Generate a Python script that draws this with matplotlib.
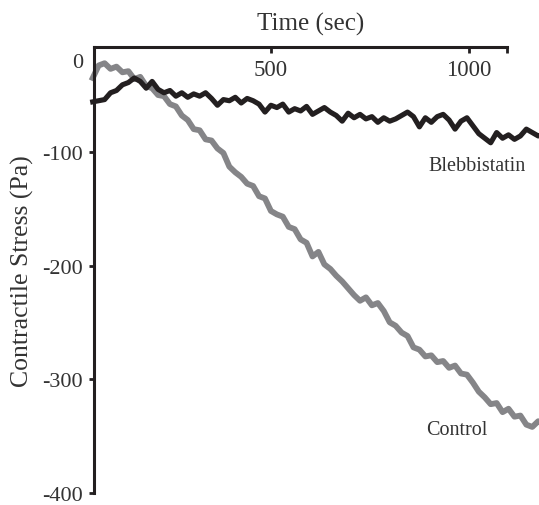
import matplotlib
matplotlib.use("Agg")
import matplotlib.pyplot as plt

plt.rcParams['font.family'] = ['Liberation Serif', 'DejaVu Serif']

# ---- data ----
time_s = [50, 65, 80, 95, 110, 125, 140, 155, 170, 185, 200, 215, 230, 245, 260,
          275, 290, 305, 320, 335, 350, 365, 380, 395, 410, 425, 440, 455, 470,
          485, 500, 515, 530, 545, 560, 575, 590, 605, 620, 635, 650, 665, 680,
          695, 710, 725, 740, 755, 770, 785, 800, 815, 830, 845, 860, 875, 890,
          905, 920, 935, 950, 965, 980, 995, 1010, 1025, 1040, 1055, 1070, 1085,
          1100, 1115, 1130, 1145, 1160, 1175, 1190]

control = [-35, -24, -22, -27, -25, -30, -29, -36, -34, -42, -44, -50, -51, -58,
           -60, -68, -72, -80, -81, -89, -90, -97, -101, -113, -118, -122, -128,
           -130, -139, -141, -152, -155, -157, -166, -168, -177, -180, -192, -188,
           -199, -203, -209, -214, -220, -226, -231, -228, -235, -233, -240, -250,
           -253, -259, -262, -272, -274, -280, -279, -285, -284, -290, -288, -295,
           -296, -303, -311, -316, -322, -321, -329, -326, -333, -332, -340, -342,
           -337, -340]

blebbistatin = [-56, -55, -54, -48, -46, -41, -39, -35, -38, -44, -38, -45, -48,
                -46, -51, -48, -52, -49, -51, -48, -53, -59, -54, -55, -52, -57,
                -53, -55, -58, -65, -59, -61, -58, -65, -62, -64, -60, -67, -64,
                -61, -65, -68, -73, -66, -70, -67, -71, -69, -74, -70, -73, -71,
                -68, -65, -69, -78, -70, -74, -69, -67, -72, -80, -73, -70, -77,
                -84, -88, -92, -83, -88, -85, -89, -86, -80, -83, -86, -84]

x_ticks = [500, 1000, 1096]
x_ticklabels = ['500', '1000', '']
y_ticks = [-100, -200, -300, -400]
y_ticklabels = ['-100', '-200', '-300', '-400']

# ---- figure ----
ink = '#231f20'
txt = '#333333'
fig = plt.figure(figsize=(5.39, 5.06), dpi=100)
ax = fig.add_axes([0.1735, 0.0240, 0.767, 0.881])

ax.plot(time_s, control, color='#858588', lw=4.2, clip_on=False, zorder=2)
ax.plot(time_s, blebbistatin, color=ink, lw=3.7, clip_on=False, zorder=3)

ax.set_xlim(52, 1096)
ax.set_ylim(-400, -7.8)

for s in ['right', 'bottom']:
    ax.spines[s].set_visible(False)
for s in ['left', 'top']:
    ax.spines[s].set_linewidth(2.2)
    ax.spines[s].set_color(ink)

ax.xaxis.tick_top()
ax.set_xticks(x_ticks, x_ticklabels)
ax.tick_params(axis='x', direction='in', length=4.5, width=2, color=ink,
               pad=-24, labelsize=16.5, labelcolor=txt)

ax.set_yticks(y_ticks, y_ticklabels)
ax.tick_params(axis='y', direction='out', length=3.6, width=2, color=ink,
               pad=4, labelsize=16, labelcolor=txt)

ax.annotate('0', xy=(0, 0.966), xycoords='axes fraction', xytext=(-7.6, 0),
            textcoords='offset points', ha='right', va='center',
            fontsize=16, color=txt)

ax.set_ylabel('Contractile Stress (Pa)', fontsize=18.5, color=txt)
ax.yaxis.set_label_coords(-0.144, 0.5)
ax.xaxis.set_label_position('top')
ax.set_xlabel('Time (sec)', fontsize=18, color=txt)
ax.xaxis.set_label_coords(0.524, 1.04)

ax.text(1020, -112, 'Blebbistatin', fontsize=14.5, color=txt,
        ha='center', va='center')
ax.text(970, -344, 'Control', fontsize=14.5, color=txt,
        ha='center', va='center')

fig.savefig('out.png', dpi=100)
